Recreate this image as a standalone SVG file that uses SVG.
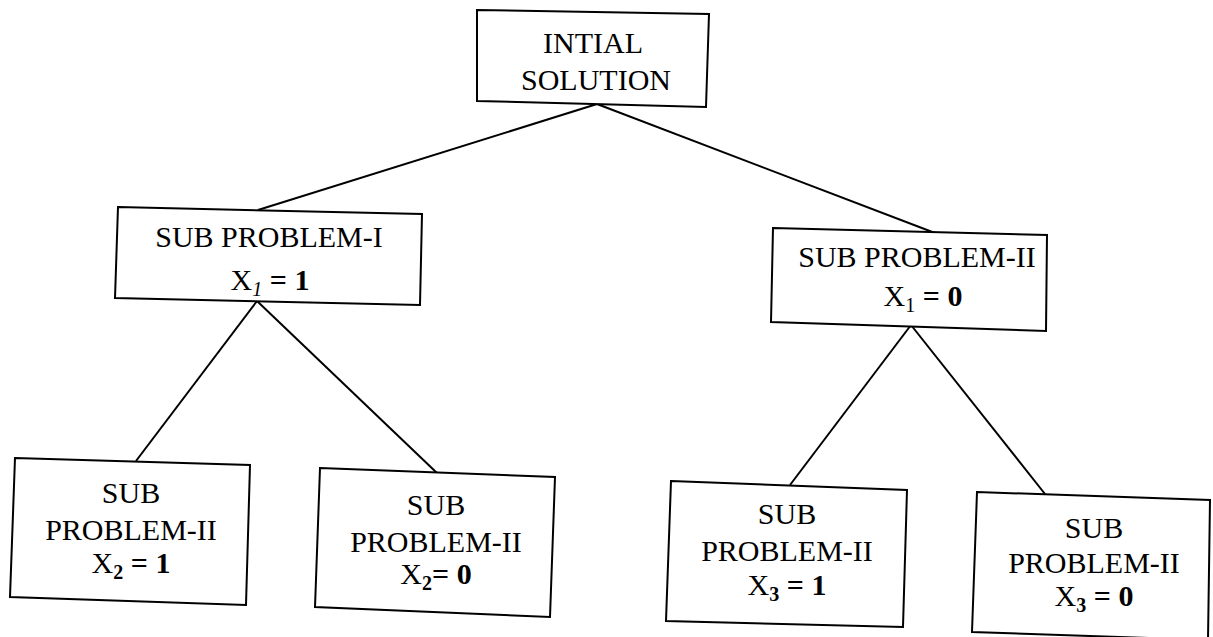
<svg xmlns="http://www.w3.org/2000/svg" width="1213" height="637" viewBox="0 0 1213 637">
  <style>
    .box { fill: #ffffff; stroke: #000000; stroke-width: 2; stroke-linejoin: miter; }
    .edge { stroke: #000000; stroke-width: 2; fill: none; }
    .lbl { font-family: "Liberation Serif", "Times New Roman", serif; font-size: 30px; fill: #000000; text-anchor: middle; }
    .b { font-weight: bold; }
    .sub { font-size: 20px; }
  </style>
  <rect width="1213" height="637" fill="#ffffff"/>

  <!-- connectors of the branch-and-bound tree -->
  <g id="connectors">
    <line class="edge" x1="597" y1="104" x2="258" y2="210"/>
    <line class="edge" x1="597" y1="104" x2="935" y2="233"/>
    <line class="edge" x1="257" y1="301" x2="136" y2="461"/>
    <line class="edge" x1="257" y1="301" x2="437" y2="473"/>
    <line class="edge" x1="911" y1="325" x2="790" y2="485"/>
    <line class="edge" x1="911" y1="325" x2="1045" y2="494"/>
  </g>

  <g id="root">
    <polygon class="box" points="477,10 709,14 706,107 477,101"/>
    <text class="lbl" x="593" y="53">INTIAL</text>
    <text class="lbl" x="596" y="90">SOLUTION</text>
  </g>

  <g id="sub1">
    <polygon class="box" points="118,207 422,214 420,305 115,298"/>
    <text class="lbl" x="269" y="247">SUB PROBLEM-I</text>
    <text class="lbl" x="270" y="290">X<tspan class="sub" font-style="italic" dy="6">1</tspan><tspan dy="-6" class="b"> = 1</tspan></text>
  </g>

  <g id="sub2">
    <polygon class="box" points="773,228 1047,235 1046,331 771,322"/>
    <text class="lbl" x="917" y="267">SUB PROBLEM-II</text>
    <text class="lbl" x="923" y="306">X<tspan class="sub" dy="6">1</tspan><tspan dy="-6" class="b"> = 0</tspan></text>
  </g>

  <g id="sub1a">
    <polygon class="box" points="15,458 250,465 246,605 10,597"/>
    <text class="lbl" x="131" y="503">SUB</text>
    <text class="lbl" x="131" y="540">PROBLEM-II</text>
    <text class="lbl" x="131" y="573">X<tspan class="sub b" dy="6">2</tspan><tspan dy="-6" class="b"> = 1</tspan></text>
  </g>

  <g id="sub1b">
    <polygon class="box" points="320,468 555,477 550,617 315,607"/>
    <text class="lbl" x="436" y="515">SUB</text>
    <text class="lbl" x="436" y="552">PROBLEM-II</text>
    <text class="lbl" x="436" y="584">X<tspan class="sub b" dy="6">2</tspan><tspan dy="-6" class="b">= 0</tspan></text>
  </g>

  <g id="sub2a">
    <polygon class="box" points="671,481 907,490 903,627 666,621"/>
    <text class="lbl" x="787" y="524">SUB</text>
    <text class="lbl" x="787" y="561">PROBLEM-II</text>
    <text class="lbl" x="787" y="595">X<tspan class="sub b" dy="6">3</tspan><tspan dy="-6" class="b"> = 1</tspan></text>
  </g>

  <g id="sub2b">
    <polygon class="box" points="977,492 1210,500 1208,640 972,632"/>
    <text class="lbl" x="1094" y="538">SUB</text>
    <text class="lbl" x="1094" y="573">PROBLEM-II</text>
    <text class="lbl" x="1094" y="606">X<tspan class="sub b" dy="6">3</tspan><tspan dy="-6" class="b"> = 0</tspan></text>
  </g>
</svg>
